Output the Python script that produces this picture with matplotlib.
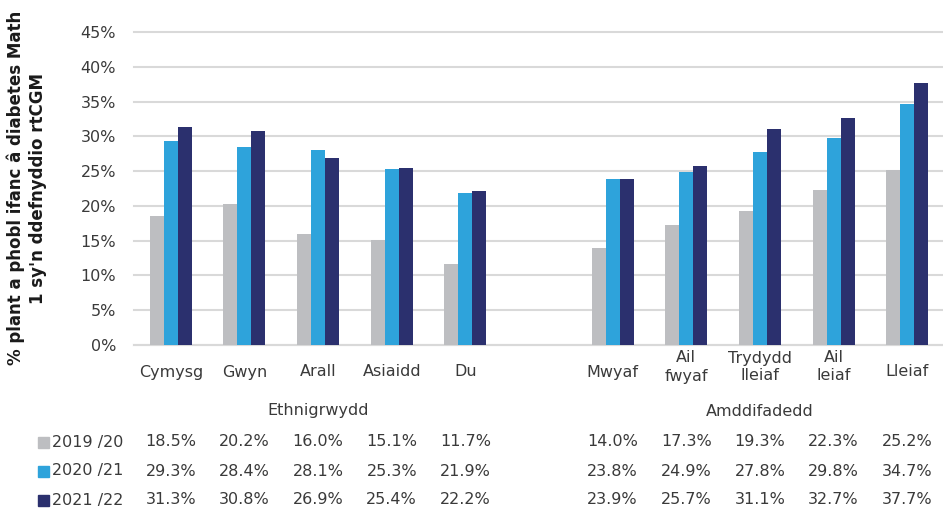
import matplotlib
matplotlib.use("Agg")
import matplotlib.pyplot as plt
import matplotlib.transforms as mtransforms
from matplotlib.patches import Rectangle
import numpy as np

plt.rcParams['font.family'] = ['DejaVu Sans']

categories = ["Cymysg", "Gwyn", "Arall", "Asiaidd", "Du", "",
              "Mwyaf", "Ail\nfwyaf", "Trydydd\nlleiaf", "Ail\nleiaf", "Lleiaf"]
series_names = ["2019 /20", "2020 /21", "2021 /22"]
v2019 = [18.5, 20.2, 16.0, 15.1, 11.7, None, 14.0, 17.3, 19.3, 22.3, 25.2]
v2020 = [29.3, 28.4, 28.1, 25.3, 21.9, None, 23.8, 24.9, 27.8, 29.8, 34.7]
v2021 = [31.3, 30.8, 26.9, 25.4, 22.2, None, 23.9, 25.7, 31.1, 32.7, 37.7]
group_labels = ["Ethnigrwydd", "Amddifadedd"]
yticks = [0, 5, 10, 15, 20, 25, 30, 35, 40, 45]
ylabel = "% plant a phobl ifanc â diabetes Math\n1 sy'n ddefnyddio rtCGM"

colors = ["#BDBEC1", "#2EA3DB", "#2B306E"]
text_color = "#3a3a3a"
fs = 11.5

fig = plt.figure(figsize=(9.43, 5.12), dpi=100)
ax = fig.add_axes([134/943, 1-345/512, 810/943, (345-32)/512])

x = np.arange(len(categories))
bw = 0.19
all_series = [v2019, v2020, v2021]
for i, (vals, c) in enumerate(zip(all_series, colors)):
    xs = [xi + (i-1)*bw for xi, v in zip(x, vals) if v is not None]
    ys = [v for v in vals if v is not None]
    ax.bar(xs, ys, width=bw, color=c, zorder=3)

ax.set_xlim(-0.5, len(categories)-0.5)
ax.set_ylim(0, 45)
ax.set_yticks(yticks)
ax.set_yticklabels([f"{t}%" for t in yticks])
ax.yaxis.grid(True, color="#D9D9D9", linewidth=1.5, zorder=0)
for gl in ax.get_ygridlines():
    gl.set_clip_on(False)
ax.set_axisbelow(True)
for s in ["top", "right", "left"]:
    ax.spines[s].set_visible(False)
ax.spines["bottom"].set_color("#D9D9D9")
ax.spines["bottom"].set_linewidth(1.5)
ax.tick_params(axis="y", length=0, pad=13, labelsize=fs, labelcolor=text_color)
ax.set_xticks(x)
ax.set_xticklabels([])
ax.tick_params(axis="x", length=0)

trans = mtransforms.blended_transform_factory(ax.transData, fig.transFigure)
for xi, lab in zip(x, categories):
    if not lab:
        continue
    yc = 372 if "\n" not in lab else 367
    ax.text(xi, 1 - yc/512, lab, transform=trans, ha="center", va="center",
            fontsize=fs, color=text_color, linespacing=1.25)

fig.text(27/943, 1-188/512, ylabel, rotation=90, ha="center", va="center",
         fontsize=12, fontweight="bold", color="#1a1a1a", linespacing=1.25)

ax.text(2, 1-411/512, group_labels[0], transform=trans, ha="center", va="center",
        fontsize=fs, color=text_color)
ax.text(8, 1-411/512, group_labels[1], transform=trans, ha="center", va="center",
        fontsize=fs, color=text_color)

row_y = [442, 471, 500]
for vals, name, c, ry in zip(all_series, series_names, colors, row_y):
    yf = 1 - ry/512
    fig.patches.append(Rectangle((38/943, yf - 5.5/512), 11/943, 11/512,
                                 transform=fig.transFigure, color=c))
    fig.text(52/943, yf, name, ha="left", va="center", fontsize=fs, color=text_color)
    for xi, v in zip(x, vals):
        if v is None:
            continue
        ax.text(xi, yf, f"{v:.1f}%", transform=trans, ha="center", va="center",
                fontsize=fs, color=text_color)

fig.savefig("out.png", dpi=100)
